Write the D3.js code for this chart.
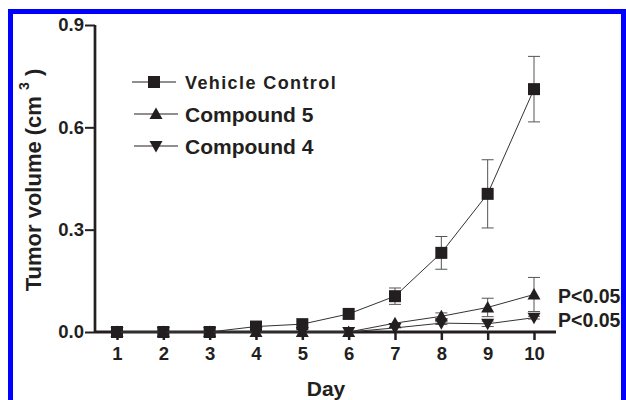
<!DOCTYPE html>
<html>
<head>
<meta charset="utf-8">
<script src="https://cdn.jsdelivr.net/npm/d3@7"></script>
<style>
  body { margin: 0; background: #fff; }
  svg { display: block; }
  text { font-family: "Liberation Sans", Arial, sans-serif; font-weight: bold; fill: #231f20; }
</style>
</head>
<body>
<svg id="chart" width="626" height="400"></svg>
<script>
// chart data
const days = [1, 2, 3, 4, 5, 6, 7, 8, 9, 10];
const vehicleMean = [0, 0, 0, 0.016, 0.023, 0.053, 0.105, 0.232, 0.405, 0.712];
const vehicleErr = [0, 0, 0, 0, 0, 0, 0.024, 0.048, 0.1, 0.096];
const comp5Mean = [0, 0, 0, 0, 0, 0, 0.026, 0.046, 0.072, 0.11];
const comp5Err = [0, 0, 0, 0, 0, 0, 0, 0.01, 0.027, 0.05];
const comp4Mean = [0, 0, 0, 0, 0, 0, 0.012, 0.026, 0.024, 0.042];
const comp4Err = [0, 0, 0, 0, 0, 0, 0, 0.004, 0.008, 0.004];
const yTicks = [0, 0.3, 0.6, 0.9];
const legendNames = ['Vehicle Control', 'Compound 5', 'Compound 4'];
const pLabels = ['P<0.05', 'P<0.05'];

const svg = d3.select('#chart');
const ink = '#231f20';
const font = '"Liberation Sans", Arial, sans-serif';

const x = d3.scaleLinear().domain([1, 10]).range([117, 534]);
const y = d3.scaleLinear().domain([0, 0.9]).range([332, 25]);

const series = [
  {name: legendNames[0], mean: vehicleMean, err: vehicleErr, shape: 'square'},
  {name: legendNames[1], mean: comp5Mean, err: comp5Err, shape: 'up'},
  {name: legendNames[2], mean: comp4Mean, err: comp4Err, shape: 'down'}
];

function marker(g, shape) {
  if (shape === 'square') {
    g.append('rect').attr('x', -6).attr('y', -6).attr('width', 12).attr('height', 12).attr('fill', ink);
  } else if (shape === 'up') {
    g.append('path').attr('d', 'M0,-6.5L6.5,5L-6.5,5Z').attr('fill', ink);
  } else {
    g.append('path').attr('d', 'M0,6.5L6.5,-5L-6.5,-5Z').attr('fill', ink);
  }
}

// axes
const yAxis = svg.append('g').attr('transform', 'translate(95,0)')
  .call(d3.axisLeft(y).tickValues(yTicks).tickFormat(d3.format('.1f')).tickSize(10).tickPadding(1));
yAxis.select('.domain').attr('d', `M0,${y(0)}V${y(0.9)}`).attr('stroke', ink).attr('stroke-width', 2.7);
yAxis.selectAll('.tick line').attr('stroke', ink).attr('stroke-width', 2);
yAxis.selectAll('.tick text').attr('font-size', 18.5).attr('fill', ink)
  .style('font-family', font).style('font-weight', 'bold');

const xAxis = svg.append('g').attr('transform', `translate(0,${y(0)})`)
  .call(d3.axisBottom(x).tickValues(days).tickFormat(d3.format('d')).tickSize(8).tickPadding(7));
xAxis.select('.domain').attr('d', 'M95,0H556').attr('stroke', ink).attr('stroke-width', 3);
xAxis.selectAll('.tick line').attr('stroke', ink).attr('stroke-width', 2.5);
xAxis.selectAll('.tick text').attr('font-size', 18.5).attr('fill', ink)
  .style('font-family', font).style('font-weight', 'bold');

// axis titles
svg.append('text')
  .attr('x', 326).attr('y', 396).attr('text-anchor', 'middle').attr('font-size', 21)
  .text('Day');

const yTitle = svg.append('text')
  .attr('transform', 'translate(41,180) rotate(-90)')
  .attr('text-anchor', 'middle').attr('font-size', 22);
yTitle.append('tspan').text('Tumor volume (cm ');
yTitle.append('tspan').attr('font-size', 14).attr('dy', -12).text('3');
yTitle.append('tspan').attr('dy', 12).text(' )');

// lines, error bars and markers
const line = d3.line().x((d, i) => x(days[i])).y(d => y(d));

series.forEach(s => {
  const g = svg.append('g');
  g.append('path').datum(s.mean).attr('d', line)
    .attr('fill', 'none').attr('stroke', '#333').attr('stroke-width', 1);

  const bars = g.selectAll('g.err').data(days.filter((d, i) => s.err[i] > 0))
    .enter().append('g').attr('class', 'err');
  bars.each(function(d) {
    const i = days.indexOf(d);
    const cx = x(d), top = y(s.mean[i] + s.err[i]), bot = y(s.mean[i] - s.err[i]);
    const b = d3.select(this);
    b.append('line').attr('x1', cx).attr('x2', cx).attr('y1', top).attr('y2', bot);
    b.append('line').attr('x1', cx - 6).attr('x2', cx + 6).attr('y1', top).attr('y2', top);
    b.append('line').attr('x1', cx - 6).attr('x2', cx + 6).attr('y1', bot).attr('y2', bot);
  });
  bars.selectAll('line').attr('stroke', '#555').attr('stroke-width', 1);

  g.selectAll('g.pt').data(s.mean).enter().append('g').attr('class', 'pt')
    .attr('transform', (d, i) => `translate(${x(days[i])},${y(d)})`)
    .each(function() { marker(d3.select(this), s.shape); });
});

// legend
const legend = svg.selectAll('g.legend').data(series).enter().append('g')
  .attr('class', 'legend')
  .attr('transform', (d, i) => `translate(${i === 0 ? 154 : 156},${82 + i * 32})`);
legend.append('line').attr('x1', -22).attr('x2', 22).attr('stroke', ink).attr('stroke-width', 1.2);
legend.each(function(d) { marker(d3.select(this), d.shape); });
legend.append('text')
  .attr('x', (d, i) => i === 0 ? 31 : 29)
  .attr('y', (d, i) => i === 0 ? 6.5 : 7.5)
  .attr('font-size', (d, i) => i === 0 ? 18 : 21)
  .attr('letter-spacing', (d, i) => i === 0 ? 1.4 : 0)
  .text(d => d.name);

// significance labels
svg.selectAll('text.pval').data(pLabels).enter().append('text')
  .attr('class', 'pval')
  .attr('x', 558).attr('y', (d, i) => 303 + i * 24).attr('font-size', 19.5)
  .text(d => d);

// blue frame on top
svg.append('rect')
  .attr('x', 10.5).attr('y', 11.5).attr('width', 613).attr('height', 400)
  .attr('fill', 'none').attr('stroke', '#0000ff').attr('stroke-width', 5);
</script>
</body>
</html>
